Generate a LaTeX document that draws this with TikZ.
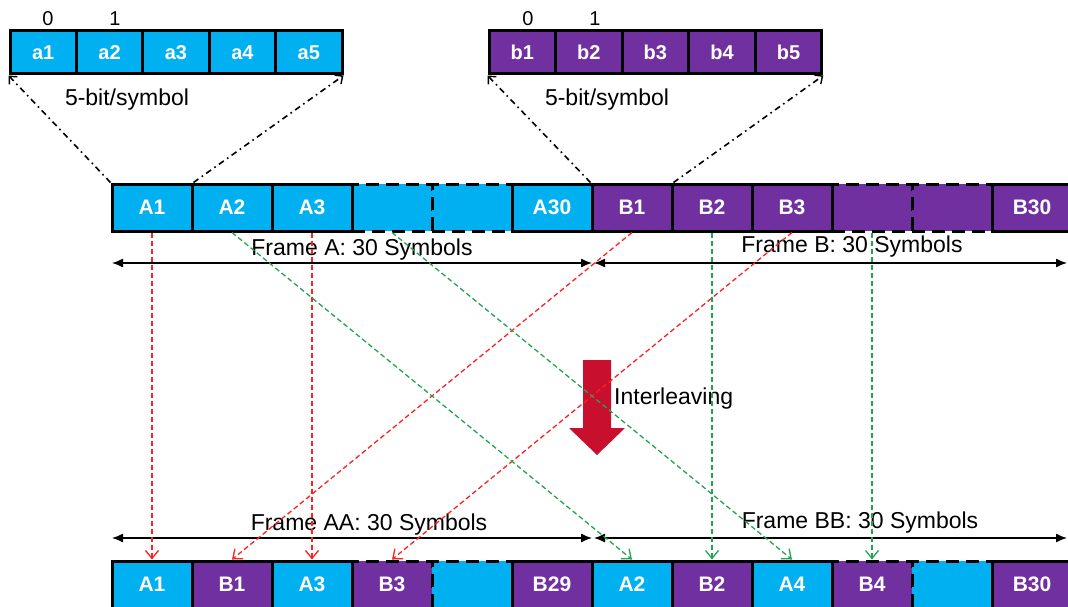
\documentclass[tikz,border=0pt]{standalone}
\usepackage{fontspec}
\setmainfont{Liberation Sans}
\usetikzlibrary{arrows.meta}
\definecolor{cy}{HTML}{00B0F0}
\definecolor{pu}{HTML}{7030A0}
\definecolor{rd}{HTML}{FF2020}
\definecolor{gr}{HTML}{22A552}
\definecolor{blockred}{HTML}{C8102E}
\begin{document}
\begin{tikzpicture}[x=1pt,y=-1pt,
 box/.style={rectangle, draw=black, line width=3pt, minimum width=80pt, minimum height=47pt, inner sep=0pt, text=white, font=\bfseries\fontsize{21}{21}\selectfont},
 cbox/.style={box, fill=cy},
 pbox/.style={box, fill=pu},
 dbox/.style={dash pattern=on 13pt off 7pt},
 sbox/.style={box, minimum width=66.4pt, minimum height=43pt, font=\bfseries\fontsize{20}{20}\selectfont},
 lbl/.style={font=\fontsize{23}{23}\selectfont, inner sep=0pt},
 num/.style={font=\fontsize{20}{20}\selectfont, inner sep=0pt},
 rdl/.style={draw=rd, line width=1.3pt, dash pattern=on 5pt off 3pt, -{Straight Barb[length=8pt,width=13pt,line width=1.3pt]}},
 grl/.style={draw=gr, line width=1.3pt, dash pattern=on 5pt off 3pt, -{Straight Barb[length=8pt,width=13pt,line width=1.3pt]}},
 dd/.style={draw=black, line width=1.6pt, dash pattern=on 6pt off 4pt on 1.6pt off 4pt, -{Straight Barb[length=6pt,width=11pt,line width=1.4pt]}},
 fr/.style={draw=black, line width=1.3pt, {Latex[length=11pt,width=9pt]}-{Latex[length=11pt,width=9pt]}}
]
\useasboundingbox (0,0) rectangle (1068,607);

% small symbol boxes
\foreach \i [count=\k from 0] in {1,...,5} {
  \node[sbox, fill=cy] (a\i) at ({10+33.2+66.4*\k},52.5) {a\i};
  \node[sbox, fill=pu] (b\i) at ({489+33.2+66.6*\k},52.5) {b\i};
}
\node[num] (n0a) at (48,19) {0};
\node[num] (n1a) at (115,19) {1};
\node[num] (n0b) at (528,19) {0};
\node[num] (n1b) at (595,19) {1};
\node[lbl] (sa) at (127,100) {5-bit/symbol};
\node[lbl] (sb) at (607,100) {5-bit/symbol};

% top row: dashed boxes first
\node[cbox, dbox] (Ad1) at (392,207.5) {};
\node[cbox, dbox] (Ad2) at (472,207.5) {};
\node[pbox, dbox] (Bd1) at (872,207.5) {};
\node[pbox, dbox] (Bd2) at (952,207.5) {};
\node[cbox] (A1) at (152,207.5) {A1};
\node[cbox] (A2) at (232,207.5) {A2};
\node[cbox] (A3) at (312,207.5) {A3};
\node[cbox] (A30) at (552,207.5) {A30};
\node[pbox] (B1) at (632,207.5) {B1};
\node[pbox] (B2) at (712,207.5) {B2};
\node[pbox] (B3) at (792,207.5) {B3};
\node[pbox] (B30) at (1032,207.5) {B30};

% bottom row
\node[pbox, dbox] (LB3) at (392,584.5) {B3};
\node[cbox, dbox] (Lx1) at (472,584.5) {};
\node[pbox, dbox] (LB4) at (872,584.5) {B4};
\node[cbox, dbox] (Lx2) at (952,584.5) {};
\node[cbox] (LA1) at (152,584.5) {A1};
\node[pbox] (LB1) at (232,584.5) {B1};
\node[cbox] (LA3) at (312,584.5) {A3};
\node[pbox] (LB29) at (552,584.5) {B29};
\node[cbox] (LA2) at (632,584.5) {A2};
\node[pbox] (LB2) at (712,584.5) {B2};
\node[cbox] (LA4) at (792,584.5) {A4};
\node[pbox] (LB30) at (1032,584.5) {B30};

% dash-dot expansion lines
\draw[dd] (A1.north west) -- (a1.south west);
\draw[dd] (A1.north east) -- (a5.south east);
\draw[dd] (B1.north west) -- (b1.south west);
\draw[dd] (B1.north east) -- (b5.south east);

% frame arrows
\coordinate (fa1) at (112,263);
\coordinate (fa2) at (592,263);
\coordinate (fb1) at (594,263);
\coordinate (fb2) at (1067,263);
\coordinate (faa1) at (112,538);
\coordinate (faa2) at (592,538);
\coordinate (fbb1) at (594,538);
\coordinate (fbb2) at (1067,538);
\draw[fr] (fa1) -- (fa2);
\draw[fr] (fb1) -- (fb2);
\draw[fr] (faa1) -- (faa2);
\draw[fr] (fbb1) -- (fbb2);
\node[lbl] (tfa) at (362,250) {Frame A: 30 Symbols};
\node[lbl] (tfb) at (852,247) {Frame B: 30 Symbols};
\node[lbl] (tfaa) at (369,525) {Frame AA: 30 Symbols};
\node[lbl] (tfbb) at (860,523) {Frame BB: 30 Symbols};

% interleaving block arrow
\fill[blockred] (583,360) -- (611,360) -- (611,428) -- (625,428) -- (597,455) -- (569,428) -- (583,428) -- cycle;
\node[lbl, anchor=west] (il) at (614,399) {Interleaving};

% mapping connectors
\draw[rdl] (A1.south) -- (LA1.north);
\draw[rdl] (A3.south) -- (LA3.north);
\draw[rdl] (B1.south) -- (LB1.north);
\draw[rdl] (B3.south) -- (LB3.north);
\draw[grl] (A2.south) -- (LA2.north);
\draw[grl] (Ad1.south) -- (LA4.north);
\draw[grl] (B2.south) -- (LB2.north);
\draw[grl] (Bd1.south) -- (LB4.north);
\end{tikzpicture}
\end{document}
